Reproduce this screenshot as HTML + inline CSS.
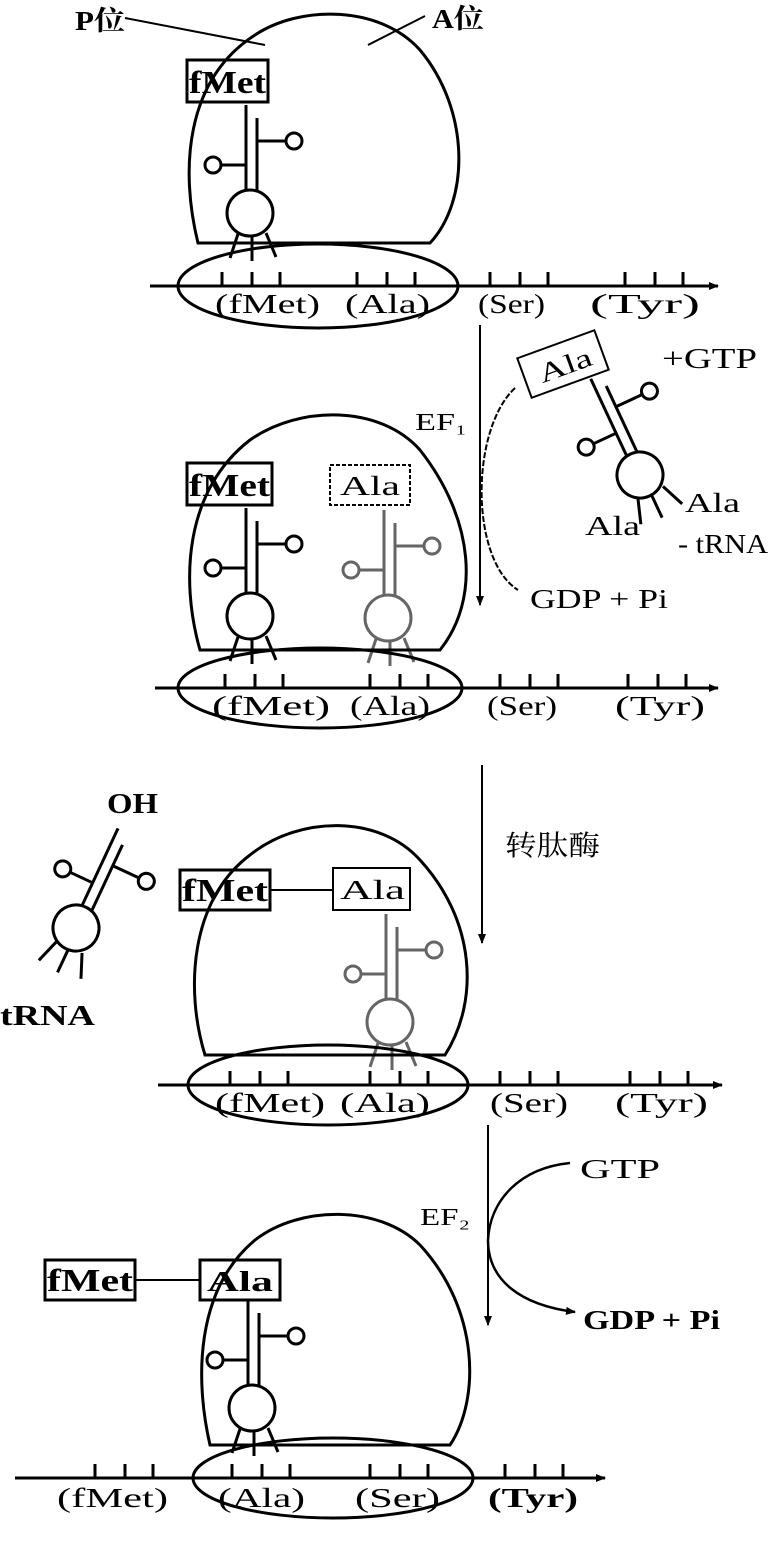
<!DOCTYPE html>
<html><head><meta charset="utf-8"><style>
html,body{margin:0;padding:0;background:#fff;}
svg{display:block;}
text{font-family:"Liberation Serif","Noto Serif CJK SC",serif;fill:#000;}
</style></head><body>
<svg width="768" height="1551" viewBox="0 0 768 1551" xmlns="http://www.w3.org/2000/svg">
<defs>
<g id="trna" fill="none" stroke="#000" stroke-width="3">
  <circle cx="0" cy="0" r="23"/>
  <line x1="-4" y1="-23" x2="-4" y2="-108"/>
  <line x1="7" y1="-21" x2="7" y2="-95"/>
  <line x1="-4" y1="-48" x2="-30" y2="-48"/>
  <circle cx="-37" cy="-48" r="8"/>
  <line x1="7" y1="-72" x2="36" y2="-72"/>
  <circle cx="44" cy="-72" r="8"/>
  <line x1="-12" y1="21" x2="-20" y2="45"/>
  <line x1="2" y1="23" x2="2" y2="48"/>
  <line x1="16" y1="20" x2="26" y2="44"/>
</g>
<g id="ticks" stroke="#000" stroke-width="3">
  <line x1="0" y1="0" x2="0" y2="-14"/><line x1="30" y1="0" x2="30" y2="-14"/><line x1="58" y1="0" x2="58" y2="-14"/>
</g>
<marker id="ah" markerWidth="10" markerHeight="10" refX="9" refY="5" orient="auto" markerUnits="userSpaceOnUse"><path d="M0,1 L10,5 L0,9 Z" fill="#000"/></marker>
</defs>

<g fill="none" stroke="#000" stroke-width="3">
<path d="M198 243 C180 170,185 80,255 35 C300 5,380 5,420 50 C470 110,470 200,430 243 Z"/>
<ellipse cx="318" cy="286" rx="140" ry="42"/>
<line x1="150" y1="286" x2="718" y2="286" marker-end="url(#ah)"/>
<line x1="125" y1="18" x2="265" y2="45" stroke-width="2"/>
<line x1="425" y1="16" x2="368" y2="45" stroke-width="2"/>
<rect x="187" y="60" width="81" height="42"/>

<path d="M200 650 C180 580,185 490,250 440 C300 405,380 405,420 450 C475 520,480 600,440 650 Z"/>
<ellipse cx="320" cy="688" rx="142" ry="40"/>
<line x1="155" y1="688" x2="718" y2="688" marker-end="url(#ah)"/>
<rect x="187" y="463" width="85" height="42"/>
<rect x="330" y="465" width="80" height="40" stroke-dasharray="4,2" stroke-width="2"/>
<line x1="480" y1="325" x2="480" y2="605" stroke-width="2" marker-end="url(#ah)"/>
<path d="M515 388 C470 430,470 560,518 590" stroke-width="2" stroke-dasharray="6,2"/>
<rect x="522" y="343" width="82" height="42" transform="rotate(-20 563 364)" stroke-width="2"/>

<path d="M205 1055 C185 990,190 900,250 855 C300 815,380 815,420 860 C475 920,480 1000,445 1055 Z"/>
<ellipse cx="328" cy="1085" rx="140" ry="40"/>
<line x1="158" y1="1085" x2="722" y2="1085" marker-end="url(#ah)"/>
<rect x="180" y="870" width="90" height="40"/>
<line x1="270" y1="890" x2="333" y2="890" stroke-width="2"/>
<rect x="333" y="868" width="77" height="42" stroke-width="2"/>
<line x1="482" y1="765" x2="482" y2="943" stroke-width="2" marker-end="url(#ah)"/>

<path d="M210 1445 C195 1380,195 1290,255 1240 C300 1205,380 1205,420 1245 C480 1310,480 1400,450 1445 Z"/>
<ellipse cx="333" cy="1478" rx="140" ry="40"/>
<line x1="15" y1="1478" x2="605" y2="1478" marker-end="url(#ah)"/>
<rect x="45" y="1260" width="90" height="40"/>
<line x1="135" y1="1280" x2="200" y2="1280" stroke-width="2"/>
<rect x="200" y="1260" width="80" height="40"/>
<line x1="488" y1="1125" x2="488" y2="1325" stroke-width="2" marker-end="url(#ah)"/>
<path d="M570 1163 C520 1168,490 1200,488 1240 C488 1280,520 1305,575 1312" stroke-width="2.5" marker-end="url(#ah)"/>
</g>

<use href="#ticks" x="222" y="286"/><use href="#ticks" x="357" y="286"/><use href="#ticks" x="490" y="286"/><use href="#ticks" x="625" y="286"/>
<use href="#ticks" x="225" y="688"/><use href="#ticks" x="370" y="688"/><use href="#ticks" x="500" y="688"/><use href="#ticks" x="628" y="688"/>
<use href="#ticks" x="230" y="1085"/><use href="#ticks" x="370" y="1085"/><use href="#ticks" x="500" y="1085"/><use href="#ticks" x="630" y="1085"/>
<use href="#ticks" x="95" y="1478"/><use href="#ticks" x="232" y="1478"/><use href="#ticks" x="370" y="1478"/><use href="#ticks" x="505" y="1478"/>

<use href="#trna" x="250" y="213"/>
<use href="#trna" x="250" y="616"/>
<g opacity="0.6"><use href="#trna" x="388" y="618"/></g>
<g opacity="0.6"><use href="#trna" x="390" y="1022"/></g>
<use href="#trna" x="252" y="1408"/>
<g transform="translate(640 475) rotate(-25)"><use href="#trna"/></g>
<g transform="translate(76 928) rotate(25)"><use href="#trna"/></g>

<g font-size="27">
<text x="75" y="30" font-weight="bold" textLength="50" lengthAdjust="spacingAndGlyphs">P位</text>
<text x="432" y="28" font-weight="bold" textLength="52" lengthAdjust="spacingAndGlyphs">A位</text>
<text x="189" y="93" font-weight="bold" font-size="32" textLength="77" lengthAdjust="spacingAndGlyphs">fMet</text>
<text x="215" y="313" textLength="105" lengthAdjust="spacingAndGlyphs">(fMet)</text>
<text x="345" y="313" textLength="85" lengthAdjust="spacingAndGlyphs">(Ala)</text>
<text x="478" y="313" textLength="67" lengthAdjust="spacingAndGlyphs">(Ser)</text>
<text x="590" y="313" textLength="110" lengthAdjust="spacingAndGlyphs">(Tyr)</text>

<text x="189" y="496" font-weight="bold" font-size="32" textLength="81" lengthAdjust="spacingAndGlyphs">fMet</text>
<text x="340" y="495" fill="#444" textLength="60" lengthAdjust="spacingAndGlyphs">Ala</text>
<text x="212" y="715" textLength="118" lengthAdjust="spacingAndGlyphs">(fMet)</text>
<text x="350" y="715" textLength="80" lengthAdjust="spacingAndGlyphs">(Ala)</text>
<text x="487" y="715" textLength="70" lengthAdjust="spacingAndGlyphs">(Ser)</text>
<text x="615" y="715" textLength="90" lengthAdjust="spacingAndGlyphs">(Tyr)</text>
<text x="415" y="430" font-size="24" textLength="52" lengthAdjust="spacingAndGlyphs">EF₁</text>
<text x="537" y="375" transform="rotate(-20 563 364)" textLength="55" lengthAdjust="spacingAndGlyphs">Ala</text>
<text x="662" y="368" font-size="28" textLength="95" lengthAdjust="spacingAndGlyphs">+GTP</text>
<text x="685" y="512" textLength="55" lengthAdjust="spacingAndGlyphs">Ala</text>
<text x="585" y="535" textLength="55" lengthAdjust="spacingAndGlyphs">Ala</text>
<text x="678" y="553" textLength="90" lengthAdjust="spacingAndGlyphs">- tRNA</text>
<text x="530" y="608" textLength="138" lengthAdjust="spacingAndGlyphs">GDP + Pi</text>

<text x="182" y="901" font-weight="bold" font-size="32" textLength="86" lengthAdjust="spacingAndGlyphs">fMet</text>
<text x="340" y="899" textLength="65" lengthAdjust="spacingAndGlyphs">Ala</text>
<text x="215" y="1112" textLength="110" lengthAdjust="spacingAndGlyphs">(fMet)</text>
<text x="340" y="1112" textLength="90" lengthAdjust="spacingAndGlyphs">(Ala)</text>
<text x="490" y="1112" textLength="78" lengthAdjust="spacingAndGlyphs">(Ser)</text>
<text x="615" y="1112" textLength="93" lengthAdjust="spacingAndGlyphs">(Tyr)</text>
<text x="505" y="855" fill="#999" font-size="28" textLength="95" lengthAdjust="spacingAndGlyphs">转肽酶</text>
<text x="107" y="813" font-weight="bold" font-size="28" textLength="51" lengthAdjust="spacingAndGlyphs">OH</text>
<text x="0" y="1025" font-weight="bold" font-size="28" textLength="95" lengthAdjust="spacingAndGlyphs">tRNA</text>

<text x="47" y="1291" font-weight="bold" font-size="32" textLength="86" lengthAdjust="spacingAndGlyphs">fMet</text>
<text x="207" y="1291" font-weight="bold" font-size="28" textLength="66" lengthAdjust="spacingAndGlyphs">Ala</text>
<text x="57" y="1507" textLength="111" lengthAdjust="spacingAndGlyphs">(fMet)</text>
<text x="218" y="1507" textLength="87" lengthAdjust="spacingAndGlyphs">(Ala)</text>
<text x="355" y="1507" textLength="85" lengthAdjust="spacingAndGlyphs">(Ser)</text>
<text x="488" y="1507" font-weight="bold" textLength="90" lengthAdjust="spacingAndGlyphs">(Tyr)</text>
<text x="420" y="1225" font-size="24" textLength="50" lengthAdjust="spacingAndGlyphs">EF₂</text>
<text x="580" y="1178" textLength="80" lengthAdjust="spacingAndGlyphs">GTP</text>
<text x="583" y="1329" font-weight="bold" textLength="137" lengthAdjust="spacingAndGlyphs">GDP + Pi</text>
</g>
</svg>
</body></html>
